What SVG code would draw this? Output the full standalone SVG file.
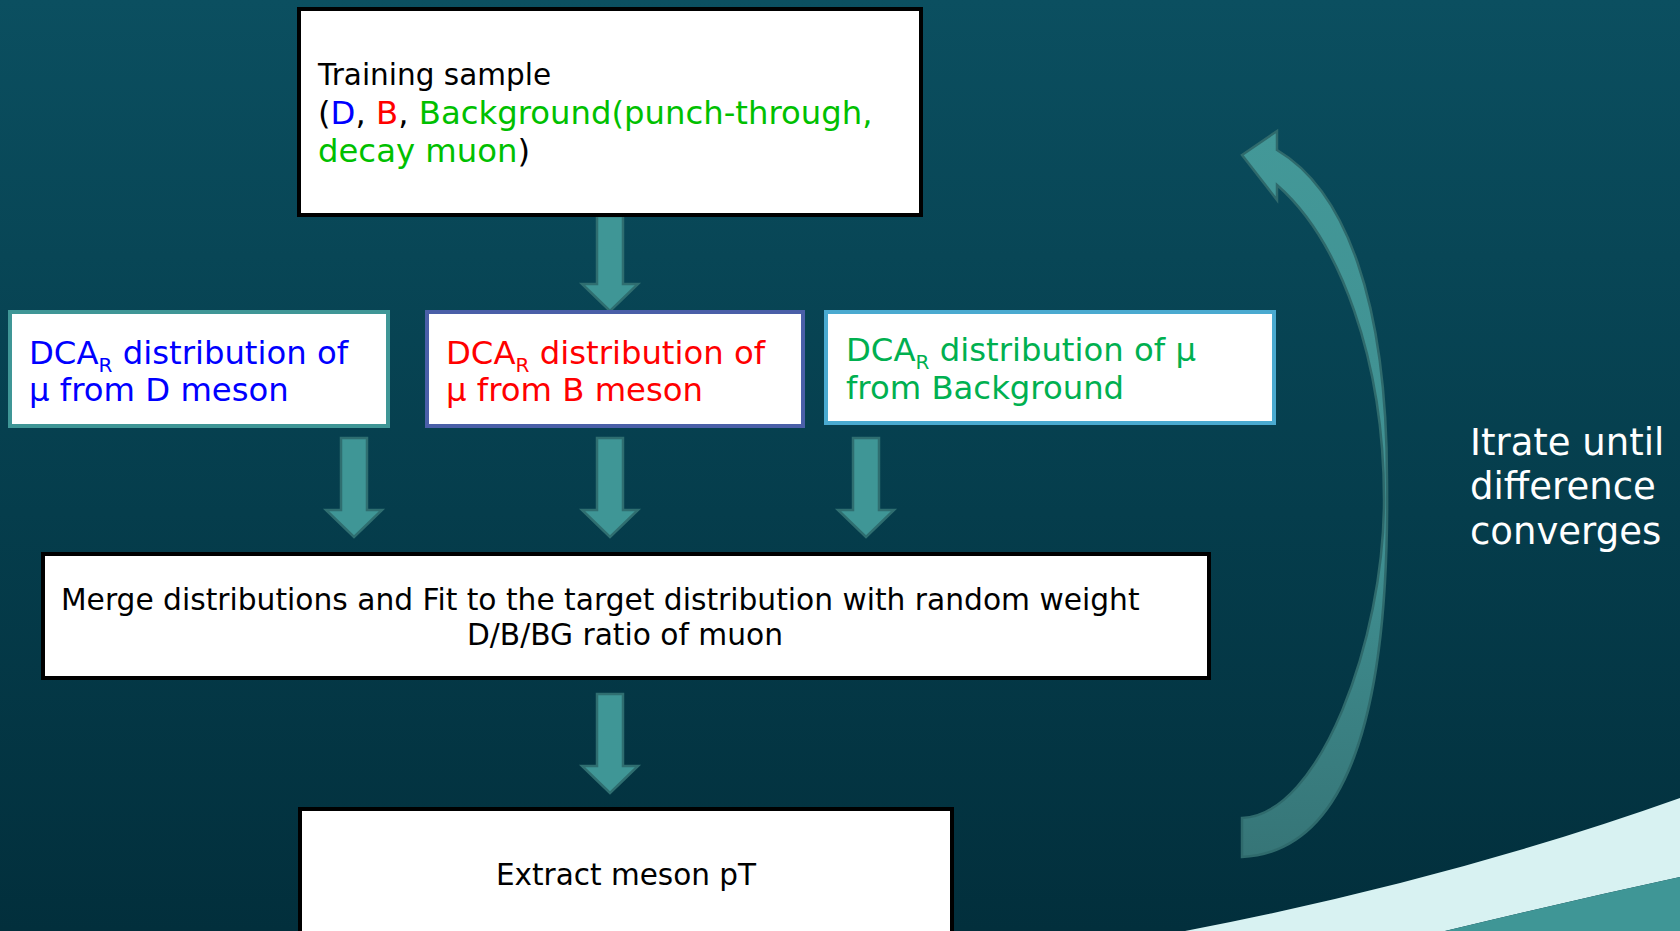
<svg xmlns="http://www.w3.org/2000/svg" width="1680" height="931" viewBox="0 0 1680 931">
<defs>
<linearGradient id="bg" x1="0" y1="0" x2="0" y2="1">
<stop offset="0" stop-color="#0b4f60"/>
<stop offset="0.55" stop-color="#053d4c"/>
<stop offset="1" stop-color="#022f3c"/>
</linearGradient>
<linearGradient id="curve" x1="0" y1="0" x2="0" y2="1">
<stop offset="0" stop-color="#439898"/>
<stop offset="0.6" stop-color="#3f8e90"/>
<stop offset="1" stop-color="#367577"/>
</linearGradient>
<style>
.box{fill:#ffffff;stroke:#000000;stroke-width:4}
.t{font-family:"DejaVu Sans","Verdana","Liberation Sans",sans-serif}
.arrow{fill:#3f9696;stroke:#2f6e70;stroke-width:2.5;stroke-linejoin:miter}
</style>
</defs>
<rect x="0" y="0" width="1680" height="931" fill="url(#bg)"/>
<path d="M1185,931 Q1450,880 1680,798 L1680,877 Q1560,903 1445,931 Z" fill="#d8f2f2"/>
<path d="M1445,931 Q1560,903 1680,877 L1680,931 Z" fill="#3f9696"/>

<g id="connectors">
<path class="arrow" d="M597,216 L623,216 L623,284 L638,284 L610,311 L582,284 L597,284 Z"/>
<path class="arrow" d="M341,438 L367,438 L367,510 L382,510 L354,537 L326,510 L341,510 Z"/>
<path class="arrow" d="M597,438 L623,438 L623,510 L638,510 L610,537 L582,510 L597,510 Z"/>
<path class="arrow" d="M853,438 L879,438 L879,510 L894,510 L866,537 L838,510 L853,510 Z"/>
<path class="arrow" d="M597,694 L623,694 L623,766 L638,766 L610,793 L582,766 L597,766 Z"/>
<path id="loop" d="M1242,818 C1320,815 1384,640 1384,500 C1384,360 1340,240 1277,185 L1277,200 L1242,155 L1277,131 L1277,150 C1345,190 1387,300 1387,480 C1390,720 1345,852 1242,857 Z" fill="url(#curve)" stroke="#2f6a6c" stroke-width="2.5" stroke-linejoin="miter"/>
</g>

<g id="training">
<rect class="box" x="299" y="9" width="622" height="206"/>
<text class="t" font-size="29.5" x="318" y="85" fill="#000">Training sample</text>
<text class="t" font-size="32.3" x="318" y="124" fill="#000">(<tspan fill="#0000ff">D</tspan>, <tspan fill="#ff0000">B</tspan>, <tspan fill="#00c000">Background(punch-through,</tspan></text>
<text class="t" font-size="32.3" x="318" y="162" fill="#000"><tspan fill="#00c000">decay muon</tspan>)</text>
</g>

<g id="dca-d">
<rect x="10" y="312" width="378" height="114" fill="#fff" stroke="#3f9696" stroke-width="4"/>
<text class="t" font-size="32.3" x="29" y="364" fill="#0000ff">DCA<tspan font-size="20" dy="8">R</tspan><tspan dy="-8"> distribution of</tspan></text>
<text class="t" font-size="32.3" x="29" y="401" fill="#0000ff">μ from D meson</text>
</g>

<g id="dca-b">
<rect x="427" y="312" width="376" height="114" fill="#fff" stroke="#4a5fa8" stroke-width="4"/>
<text class="t" font-size="32.3" x="446" y="364" fill="#ff0000">DCA<tspan font-size="20" dy="8">R</tspan><tspan dy="-8"> distribution of</tspan></text>
<text class="t" font-size="32.3" x="446" y="401" fill="#ff0000">μ from B meson</text>
</g>

<g id="dca-bg">
<rect x="826" y="312" width="448" height="111" fill="#fff" stroke="#4aaad0" stroke-width="4"/>
<text class="t" font-size="32.3" x="846" y="361" fill="#00b050">DCA<tspan font-size="20" dy="8">R</tspan><tspan dy="-8"> distribution of μ</tspan></text>
<text class="t" font-size="32.3" x="846" y="399" fill="#00b050">from Background</text>
</g>

<g id="merge">
<rect class="box" x="43" y="554" width="1166" height="124"/>
<text class="t" font-size="29.7" x="61" y="610" fill="#000">Merge distributions and Fit to the target distribution with random weight</text>
<text class="t" font-size="29.7" x="625" y="645" fill="#000" text-anchor="middle">D/B/BG ratio of muon</text>
</g>

<g id="extract">
<rect class="box" x="300" y="809" width="652" height="140"/>
<text class="t" font-size="29.5" x="626" y="885" fill="#000" text-anchor="middle">Extract meson pT</text>
</g>

<g id="iterate-label">
<text class="t" font-size="37" x="1470" y="455" fill="#ffffff">Itrate until</text>
<text class="t" font-size="37" x="1470" y="499" fill="#ffffff">difference</text>
<text class="t" font-size="37" x="1470" y="544" fill="#ffffff">converges</text>
</g>
</svg>
